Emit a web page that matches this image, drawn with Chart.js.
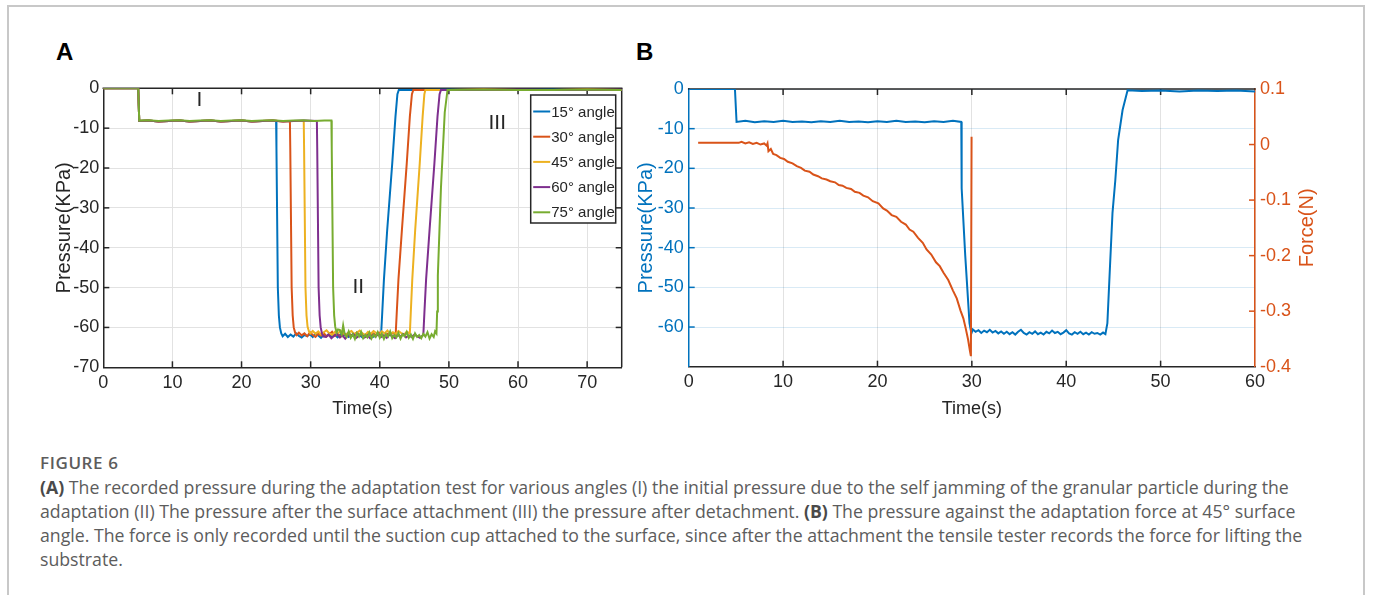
<!DOCTYPE html>
<html>
<head>
<meta charset="utf-8">
<script src="https://cdn.jsdelivr.net/npm/chart.js@4.4.1/dist/chart.umd.min.js"></script>
<style>
  html, body { margin:0; padding:0; background:#fff; width:1373px; height:595px; overflow:hidden; }
  .frame { position:absolute; left:7px; top:5px; width:1358px; height:640px; border:2px solid #c8c8c8; box-sizing:border-box; }
  canvas { position:absolute; }
  .panel { position:absolute; font-family:'Liberation Sans', Arial, sans-serif; font-weight:bold; font-size:24px; color:#000; }
  .fig { position:absolute; left:40px; top:451px; font-family:'Open Sans', Lato, sans-serif; font-weight:600; font-size:17px; letter-spacing:0.6px; color:#5c5c5c; white-space:nowrap; }
  .txt { position:absolute; left:40px; top:475px; font-family:'Open Sans', Lato, sans-serif; font-size:17.7px; line-height:24px; color:#5c5c5c; white-space:nowrap; }
  .txt b { color:#4a4a4a; font-weight:700; }
</style>
</head>
<body>
<div class="frame"></div>
<div class="panel" style="left:56px; top:38px;">A</div>
<div class="panel" style="left:636px; top:38px;">B</div>
<canvas id="chartA" width="620" height="360" style="left:20px; top:70px;"></canvas>
<canvas id="chartB" width="720" height="360" style="left:620px; top:70px;"></canvas>
<div class="fig">FIGURE 6</div>
<div class="txt" id="cap"><b>(A)</b> The recorded pressure during the adaptation test for various angles (I) the initial pressure due to the self jamming of the granular particle during the<br>adaptation (II) The pressure after the surface attachment (III) the pressure after detachment. <b>(B)</b> The pressure against the adaptation force at 45° surface<br>angle. The force is only recorded until the suction cup attached to the surface, since after the attachment the tensile tester records the force for lifting the<br>substrate.</div>
<script>
// ---------------- DATA ----------------
const seriesLabels = ['15° angle', '30° angle', '45° angle', '60° angle', '75° angle'];

// Panel A: [time (s), pressure (kPa)]
const pressure15 = [[0,0],[5.05,0],[5.2,-8.2],[6.5,-8.1],[8,-8.3],[9.5,-8.2],[11,-8.1],[12.5,-8.3],[14,-8.2],[15.5,-8.1],[17,-8.3],[18.5,-8.2],[20,-8.1],[21.5,-8.3],[23,-8.2],[25.0,-8.2],
  [25.05,-15],[25.25,-50],[25.4,-57],[25.55,-60],[25.75,-61.5],[25.95,-62.2],
  [26.3,-61.6],[26.7,-62.4],[27.1,-61.8],[27.5,-62.3],[27.9,-61.5],[28.3,-62.1],[28.7,-62.5],[29.1,-61.9],[29.5,-62.2],[29.9,-61.7],[30.3,-62.4],[30.7,-61.6],[31.1,-62.0],[31.5,-62.6],[31.9,-61.8],[32.3,-62.2],[32.7,-61.5],[33.1,-62.3],[33.5,-61.9],[33.9,-62.5],[34.3,-61.7],[34.7,-62.1],[35.1,-61.6],[35.5,-62.4],[35.9,-61.9],[36.3,-62.2],[36.7,-61.4],[37.1,-62.0],[37.5,-62.5],[37.9,-61.8],[38.3,-62.1],[38.7,-61.6],[39.1,-62.3],[39.5,-61.8],[39.9,-62.0],[40.2,-61.5],
  [40.35,-56.5],[40.6,-48],[41.07,-35.6],[41.8,-18.9],[42.27,-7.1],[42.55,-1.5],[42.75,-0.4],[45,-0.4],[50,-0.3],[55,-0.4],[60,-0.4],[65,-0.3],[70,-0.4],[75,-0.4]];

const pressure30 = [[0,0],[5.05,0],[5.2,-8.2],[6.5,-8.1],[8,-8.3],[9.5,-8.2],[11,-8.1],[12.5,-8.3],[14,-8.2],[15.5,-8.1],[17,-8.3],[18.5,-8.2],[20,-8.1],[21.5,-8.3],[23,-8.2],[24.5,-8.1],[26,-8.3],[27.0,-8.2],
  [27.05,-15],[27.25,-50],[27.4,-57],[27.55,-60],[27.75,-61.3],[27.95,-61.9],
  [28.3,-61.3],[28.7,-62.0],[29.1,-61.5],[29.5,-62.2],[29.9,-61.2],[30.3,-61.9],[30.7,-62.4],[31.1,-61.6],[31.5,-62.0],[31.9,-61.4],[32.3,-62.3],[32.7,-61.7],[33.1,-61.1],[33.5,-62.1],[33.9,-61.6],[34.3,-62.4],[34.7,-61.5],[35.1,-61.9],[35.5,-61.3],[35.9,-62.2],[36.3,-61.7],[36.7,-61.2],[37.1,-62.0],[37.5,-61.6],[37.9,-62.3],[38.3,-61.4],[38.7,-61.9],[39.1,-61.5],[39.5,-62.1],[39.9,-61.3],[40.3,-61.8],[40.7,-62.2],[41.1,-61.6],[41.5,-61.9],[41.9,-61.4],[42.3,-61.7],
  [42.45,-56.5],[42.7,-48],[43.2,-35.6],[43.9,-18.9],[44.35,-7.1],[44.65,-1.5],[44.85,-0.4],[50,-0.4],[55,-0.3],[60,-0.4],[65,-0.4],[70,-0.3],[75,-0.4]];

const pressure45 = [[0,0],[5.05,0],[5.2,-8.2],[6.5,-8.1],[8,-8.3],[9.5,-8.2],[11,-8.1],[12.5,-8.3],[14,-8.2],[15.5,-8.1],[17,-8.3],[18.5,-8.2],[20,-8.1],[21.5,-8.3],[23,-8.2],[24.5,-8.1],[26,-8.3],[27.5,-8.2],[29.0,-8.2],
  [29.05,-15],[29.25,-50],[29.4,-57],[29.55,-59.8],[29.75,-61.0],[29.95,-61.5],
  [30.3,-60.9],[30.7,-61.6],[31.1,-61.0],[31.5,-61.8],[31.9,-61.2],[32.3,-60.7],[32.7,-61.5],[33.1,-61.9],[33.5,-61.1],[33.9,-61.6],[34.3,-60.8],[34.7,-61.4],[35.1,-61.9],[35.5,-61.2],[35.9,-60.9],[36.3,-61.7],[36.7,-61.3],[37.1,-60.8],[37.5,-61.5],[37.9,-61.9],[38.3,-61.1],[38.7,-61.6],[39.1,-60.9],[39.5,-61.4],[39.9,-61.8],[40.3,-61.0],[40.7,-61.5],[41.1,-60.8],[41.5,-61.7],[41.9,-61.2],[42.3,-61.6],[42.7,-60.9],[43.1,-61.4],[43.5,-61.8],[43.9,-61.1],[44.35,-61.5],
  [44.48,-56.5],[44.7,-48],[45.12,-35.6],[45.78,-18.9],[46.2,-7.1],[46.45,-1.5],[46.6,-0.4],[50,-0.4],[55,-0.3],[60,-0.4],[65,-0.4],[70,-0.3],[75,-0.4]];

const pressure60 = [[0,0],[5.05,0],[5.2,-8.2],[6.5,-8.1],[8,-8.3],[9.5,-8.2],[11,-8.1],[12.5,-8.3],[14,-8.2],[15.5,-8.1],[17,-8.3],[18.5,-8.2],[20,-8.1],[21.5,-8.3],[23,-8.2],[24.5,-8.1],[26,-8.3],[27.5,-8.2],[29,-8.1],[30.9,-8.2],
  [30.95,-15],[31.15,-50],[31.3,-57],[31.45,-60],[31.65,-61.6],[31.85,-62.3],
  [32.2,-62.4],[32.6,-61.8],[33.0,-62.7],[33.4,-62.1],[33.8,-61.6],[34.2,-62.5],[34.6,-62.0],[35.0,-62.8],[35.4,-61.9],[35.8,-62.3],[36.2,-61.7],[36.6,-62.6],[37.0,-62.1],[37.4,-61.8],[37.8,-62.5],[38.2,-62.0],[38.6,-62.7],[39.0,-61.9],[39.4,-62.3],[39.8,-61.6],[40.2,-62.4],[40.6,-62.0],[41.0,-62.6],[41.4,-61.8],[41.8,-62.2],[42.2,-62.7],[42.6,-61.9],[43.0,-62.3],[43.4,-61.7],[43.8,-62.5],[44.2,-62.0],[44.6,-62.4],[45.0,-61.8],[45.4,-62.2],[45.8,-62.6],[46.3,-61.9],
  [46.45,-56.5],[46.7,-48],[47.2,-35.6],[47.9,-18.9],[48.35,-7.1],[48.65,-1.5],[48.85,-0.4],[55,-0.4],[60,-0.3],[65,-0.4],[70,-0.4],[75,-0.3]];

const pressure75 = [[0,0],[5.05,0],[5.2,-8.1],[6.5,-8.0],[8,-8.2],[9.5,-8.1],[11,-8.0],[12.5,-8.2],[14,-8.1],[15.5,-8.0],[17,-8.2],[18.5,-8.1],[20,-8.0],[21.5,-8.2],[23,-8.1],[24.5,-8.0],[26,-8.2],[27.5,-8.1],[29,-8.0],[30.5,-8.2],[32,-8.1],[33.0,-8.1],
  [33.05,-15],[33.25,-50],[33.4,-57],[33.55,-59.8],[33.75,-61.3],[33.95,-60.5],
  [34.2,-60.6],[34.5,-61.8],[34.7,-59.5],[34.9,-61.5],[35.2,-62.4],[35.5,-61.0],[35.8,-62.6],[36.1,-61.7],[36.4,-62.9],[36.7,-61.4],[37.0,-62.3],[37.3,-61.1],[37.6,-62.7],[37.9,-61.9],[38.2,-62.5],[38.5,-61.3],[38.8,-62.8],[39.1,-61.8],[39.4,-62.4],[39.7,-61.2],[40.0,-62.6],[40.3,-61.6],[40.6,-62.9],[40.9,-61.7],[41.2,-62.3],[41.5,-61.0],[41.8,-62.7],[42.1,-61.9],[42.4,-62.5],[42.7,-61.4],[43.0,-62.8],[43.3,-61.7],[43.6,-62.2],[43.9,-61.1],[44.2,-62.6],[44.5,-61.8],[44.8,-62.9],[45.1,-61.5],[45.4,-62.4],[45.7,-61.9],[46.0,-62.7],[46.3,-61.6],[46.6,-62.3],[46.9,-61.2],[47.2,-62.8],[47.5,-61.7],[47.8,-62.4],[48.0,-61.0],[48.2,-61.5],
  [48.3,-56],[48.4,-47],[48.85,-25],[49.4,-6],[49.8,-0.4],[55,-0.3],[60,-0.4],[65,-0.4],[70,-0.3],[75,-0.4]];

// Region labels in panel A (data coordinates)
const regionText = ['I', 'II', 'III'];
const regionTime = [13.9, 36.9, 57.0];
const regionPressure = [-2.9, -49.8, -8.7];

// Panel B: [time (s), pressure (kPa)]
const pressureB = [[0,0],[4.9,0],[5.07,-8.3],[6,-8.0],[7,-8.4],[8,-8.1],[9,-8.3],[10,-8.0],[11,-8.3],[12,-8.2],[13,-8.4],[14,-8.1],[15,-8.3],[16,-8.0],[17,-8.3],[18,-8.2],[19,-8.4],[20,-8.1],[21,-8.3],[22,-8.0],[23,-8.3],[24,-8.2],[25,-8.4],[26,-8.1],[27,-8.3],[28,-8.0],[28.88,-8.3],
  [28.92,-25],[29.3,-42],[29.75,-59],[29.95,-61.6],[30.1,-60.6],
  [30.4,-61.2],[30.7,-60.8],[31.0,-61.5],[31.3,-60.9],[31.6,-61.3],[31.9,-60.7],[32.2,-61.4],[32.5,-61.0],[32.8,-61.6],[33.1,-61.1],[33.4,-61.7],[33.7,-61.2],[34.0,-61.8],[34.3,-61.3],[34.6,-61.9],[34.9,-61.2],[35.2,-60.7],[35.5,-61.5],[35.8,-61.9],[36.1,-61.3],[36.4,-61.7],[36.7,-61.1],[37.0,-61.8],[37.3,-61.4],[37.6,-61.9],[37.9,-61.2],[38.2,-61.6],[38.5,-60.9],[38.8,-61.5],[39.1,-61.2],[39.4,-61.8],[39.7,-61.4],[40.0,-60.8],[40.3,-61.6],[40.6,-61.9],[40.9,-61.3],[41.2,-61.7],[41.5,-61.2],[41.8,-61.8],[42.1,-61.4],[42.4,-61.9],[42.7,-61.3],[43.0,-61.7],[43.3,-61.5],[43.6,-61.9],[43.9,-61.4],[44.15,-61.8],
  [44.36,-59],[44.65,-44],[44.9,-31.3],[45.2,-23],[45.5,-12.8],[45.97,-5.3],[46.5,-0.3],[48,-0.5],[50,-0.4],[52,-0.6],[54,-0.4],[56,-0.5],[58,-0.4],[60,-0.6]];

// Panel B: [time (s), force (N)]
const forceB = [[1.0,0.003],[5.3,0.003],[5.6,0.005],[6.0,0.002],[6.4,0.004],[6.8,0.001],[7.2,0.003],[7.6,0.0],[8.0,0.002],[8.25,-0.002],[8.35,0.002],[8.45,-0.012],[8.7,-0.008],[8.95,-0.017],[9.3,-0.019],[9.7,-0.024],[10.1,-0.026],[10.5,-0.031],[11.0,-0.034],[11.45,-0.039],[11.9,-0.042],[12.3,-0.047],[12.8,-0.049],[13.2,-0.054],[13.7,-0.057],[14.1,-0.061],[14.6,-0.063],[15.0,-0.066],[15.5,-0.068],[15.9,-0.073],[16.3,-0.074],[16.7,-0.078],[17.2,-0.08],[17.6,-0.085],[18.1,-0.087],[18.5,-0.092],[19.0,-0.095],[19.5,-0.102],[20.1,-0.106],[20.6,-0.115],[21.0,-0.119],[21.5,-0.127],[22.0,-0.13],[22.5,-0.139],[23.0,-0.144],[23.4,-0.153],[23.8,-0.157],[24.3,-0.168],[24.8,-0.177],[25.2,-0.189],[25.7,-0.198],[26.2,-0.212],[26.6,-0.219],[27.0,-0.231],[27.5,-0.244],[28.0,-0.263],[28.4,-0.277],[28.8,-0.299],[29.1,-0.313],[29.35,-0.331],[29.6,-0.351],[29.8,-0.372],[29.9,-0.381],[29.97,0.014]];

// ---------------- STYLE ----------------
const seriesColors = ['#0072BD', '#D95319', '#EDB120', '#7E2F8E', '#77AC30'];
const BLUE = '#0072BD', ORANGE = '#D95319', INK = '#262626';
const FONT = "'Liberation Sans', Arial, Helvetica, sans-serif";
Chart.defaults.font.family = FONT;

const toXY = arr => arr.map(p => ({x: p[0], y: p[1]}));

// Draws the box top/right lines and inward tick marks using the chart's scales
const framePlugin = {
  id: 'frame',
  beforeDatasetsDraw(chart, args, o) {
    const {ctx, chartArea: a} = chart;
    ctx.save();
    ctx.lineWidth = 1.5;
    if (o.top) { ctx.strokeStyle = o.top; ctx.beginPath(); ctx.moveTo(a.left - 0.75, a.top); ctx.lineTo(a.right + 0.75, a.top); ctx.stroke(); }
    if (o.right) { ctx.strokeStyle = o.right; ctx.beginPath(); ctx.moveTo(a.right, a.top); ctx.lineTo(a.right, a.bottom); ctx.stroke(); }
    const L = 6;
    (o.marks || []).forEach(m => {
      const s = chart.scales[m.scale];
      ctx.strokeStyle = m.color;
      s.ticks.forEach(t => {
        const p = s.getPixelForValue(t.value);
        if (s.isHorizontal()) {
          if (p <= a.left + 1 || p >= a.right - 1) return;
          ctx.beginPath();
          if (m.side === 'bottom') { ctx.moveTo(p, a.bottom); ctx.lineTo(p, a.bottom - L); }
          else { ctx.moveTo(p, a.top); ctx.lineTo(p, a.top + L); }
          ctx.stroke();
        } else {
          if (p <= a.top + 1 || p >= a.bottom - 1) return;
          ctx.beginPath();
          if (m.side === 'left') { ctx.moveTo(a.left, p); ctx.lineTo(a.left + L, p); }
          else { ctx.moveTo(a.right, p); ctx.lineTo(a.right - L, p); }
          ctx.stroke();
        }
      });
    });
    ctx.restore();
  }
};

// Legend box and region labels for panel A
const panelAPlugin = {
  id: 'panelA',
  afterDatasetsDraw(chart) {
    const {ctx, chartArea: a, scales} = chart;
    ctx.save();
    ctx.fillStyle = INK;
    ctx.font = '21px ' + FONT;
    ctx.textAlign = 'center';
    ctx.textBaseline = 'middle';
    regionText.forEach((t, i) => {
      ctx.fillText(t, scales.x.getPixelForValue(regionTime[i]), scales.y.getPixelForValue(regionPressure[i]));
    });
    const bw = 85, bh = 128;
    const bx = a.right - 6 - bw, by = a.top + 6.7;
    ctx.fillStyle = '#fff';
    ctx.fillRect(bx, by, bw, bh);
    ctx.strokeStyle = INK;
    ctx.lineWidth = 1.5;
    ctx.strokeRect(bx, by, bw, bh);
    ctx.font = '15px ' + FONT;
    ctx.textAlign = 'left';
    chart.data.datasets.forEach((ds, i) => {
      const yy = by + 16.5 + i * 25.2;
      ctx.strokeStyle = ds.borderColor;
      ctx.lineWidth = 2;
      ctx.beginPath(); ctx.moveTo(bx + 2.5, yy); ctx.lineTo(bx + 19.5, yy); ctx.stroke();
      ctx.fillStyle = INK;
      ctx.fillText(ds.label, bx + 20.5, yy + 1);
    });
    ctx.restore();
  }
};

// Right-axis title for panel B (reads bottom to top)
const rightTitlePlugin = {
  id: 'rightTitle',
  afterDraw(chart) {
    const {ctx, chartArea: a} = chart;
    ctx.save();
    ctx.translate(a.right + 52, (a.top + a.bottom) / 2);
    ctx.rotate(-Math.PI / 2);
    ctx.fillStyle = ORANGE;
    ctx.font = '20px ' + FONT;
    ctx.textAlign = 'center';
    ctx.textBaseline = 'middle';
    ctx.fillText('Force(N)', 0, 0);
    ctx.restore();
  }
};

const tickFont = {size: 18, family: FONT};
const xTitleFont = {size: 18, family: FONT};
const yTitleFont = {size: 20, family: FONT};

// ---------------- PANEL A ----------------
const panelASeries = [pressure15, pressure30, pressure45, pressure60, pressure75];
new Chart(document.getElementById('chartA'), {
  type: 'line',
  data: {
    datasets: panelASeries.map((s, i) => ({
      label: seriesLabels[i],
      data: toXY(s),
      borderColor: seriesColors[i],
      borderWidth: 2,
      pointRadius: 0,
      tension: 0,
      order: panelASeries.length - i
    }))
  },
  options: {
    responsive: false, animation: false, devicePixelRatio: 1,
    layout: {padding: {left: 0, top: 18.3, right: 18.3, bottom: 0}},
    plugins: {
      legend: {display: false}, tooltip: {enabled: false},
      frame: {top: INK, right: INK, marks: [
        {scale: 'x', side: 'bottom', color: INK}, {scale: 'x', side: 'top', color: INK},
        {scale: 'y', side: 'left', color: INK}, {scale: 'y', side: 'right', color: INK}]}
    },
    scales: {
      x: {
        type: 'linear', min: 0, max: 75,
        afterFit: s => { s.height = 62.7; },
        ticks: {stepSize: 10, includeBounds: false, font: tickFont, color: INK, padding: 5, maxRotation: 0},
        grid: {color: '#e2e2e2', lineWidth: 1, drawTicks: false},
        border: {display: true, color: INK, width: 1.5},
        title: {display: true, text: 'Time(s)', font: xTitleFont, color: INK, padding: {top: 10, bottom: 10}}
      },
      y: {
        type: 'linear', min: -70, max: 0,
        afterFit: s => { s.width = 83.3; },
        ticks: {stepSize: 10, font: tickFont, color: INK, padding: 4},
        grid: {color: '#e2e2e2', lineWidth: 1, drawTicks: false},
        border: {display: true, color: INK, width: 1.5},
        title: {display: true, text: 'Pressure(KPa)', font: yTitleFont, color: INK, padding: {top: 32, bottom: 0}}
      }
    }
  },
  plugins: [framePlugin, panelAPlugin]
});

// ---------------- PANEL B ----------------
new Chart(document.getElementById('chartB'), {
  type: 'line',
  data: {
    datasets: [
      {label: 'Pressure', data: toXY(pressureB), yAxisID: 'y', borderColor: BLUE, borderWidth: 2, pointRadius: 0, tension: 0, order: 1},
      {label: 'Force', data: toXY(forceB), yAxisID: 'y1', borderColor: ORANGE, borderWidth: 2, pointRadius: 0, tension: 0, order: 0}
    ]
  },
  options: {
    responsive: false, animation: false, devicePixelRatio: 1,
    layout: {padding: {left: 0, top: 19, right: 0, bottom: 0}},
    plugins: {
      legend: {display: false}, tooltip: {enabled: false},
      frame: {top: INK, marks: [
        {scale: 'x', side: 'bottom', color: INK}, {scale: 'x', side: 'top', color: INK},
        {scale: 'y', side: 'left', color: BLUE}, {scale: 'y1', side: 'right', color: ORANGE}]}
    },
    scales: {
      x: {
        type: 'linear', min: 0, max: 60,
        afterFit: s => { s.height = 63.3; },
        ticks: {stepSize: 10, font: tickFont, color: INK, padding: 5, maxRotation: 0},
        grid: {color: '#e2e2e2', lineWidth: 1, drawTicks: false},
        border: {display: true, color: INK, width: 1.5},
        title: {display: true, text: 'Time(s)', font: xTitleFont, color: INK, padding: {top: 10, bottom: 10}}
      },
      y: {
        type: 'linear', position: 'left', min: -70, max: 0,
        afterFit: s => { s.width = 68.7; },
        ticks: {stepSize: 10, font: tickFont, color: BLUE, padding: 5, callback: v => (v === -70 ? '' : String(v))},
        grid: {color: 'rgba(0,114,189,0.15)', lineWidth: 1, drawTicks: false},
        border: {display: true, color: BLUE, width: 1.5},
        title: {display: true, text: 'Pressure(KPa)', font: yTitleFont, color: BLUE, padding: {top: 14, bottom: 0}}
      },
      y1: {
        type: 'linear', position: 'right', min: -0.4, max: 0.1,
        afterFit: s => { s.width = 85; },
        ticks: {stepSize: 0.1, font: tickFont, color: ORANGE, padding: 5, callback: v => (Math.abs(v) < 1e-9 ? '0' : v.toFixed(1))},
        grid: {display: false, drawTicks: false},
        border: {display: true, color: ORANGE, width: 1.5}
      }
    }
  },
  plugins: [framePlugin, rightTitlePlugin]
});
</script>
</body>
</html>
